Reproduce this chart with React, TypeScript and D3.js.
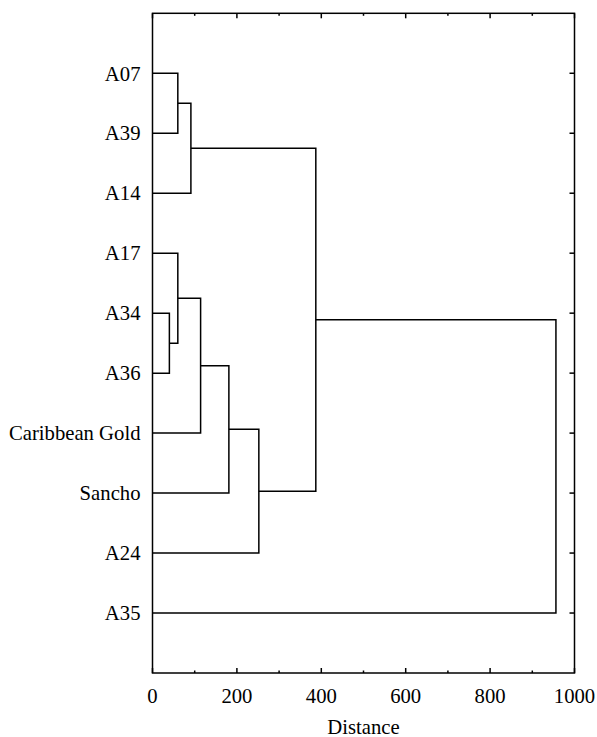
import React from "react";
import * as d3 from "d3";

// Leaf labels, top to bottom
const leaves = ["A07", "A39", "A14", "A17", "A34", "A36", "Caribbean Gold", "Sancho", "A24", "A35"];

// Agglomeration steps: children (leaf index or 10 + step index) and linkage distance
const mergeLeft = [0, 10, 4, 3, 13, 14, 15, 11, 17];
const mergeRight = [1, 2, 5, 12, 6, 7, 8, 16, 9];
const mergeDistance = [60, 91, 40, 60, 114, 181, 252, 387, 956];

// Distance axis ticks
const xTicks = [0, 100, 200, 300, 400, 500, 600, 700, 800, 900, 1000];
const xTickLabels = ["0", "200", "400", "600", "800", "1000"];
const xTitle = "Distance";

const W = 597;
const H = 737;
const plot = { left: 152.5, right: 574.5, top: 13.3, bottom: 673 };

export default function App() {
  const x = d3.scaleLinear().domain([0, 1000]).range([plot.left, plot.right]);
  const y = d3.scaleLinear().domain([0, leaves.length + 1]).range([plot.top, plot.bottom]);

  // node positions: leaves at their row, clusters at the midpoint of their children
  const nodeY: number[] = leaves.map((_, i) => i + 1);
  const nodeH: number[] = leaves.map(() => 0);
  mergeLeft.forEach((a, i) => {
    const b = mergeRight[i];
    nodeY.push((nodeY[a] + nodeY[b]) / 2);
    nodeH.push(mergeDistance[i]);
  });

  const segs: string[] = [];
  mergeLeft.forEach((a, i) => {
    const b = mergeRight[i];
    const hx = x(mergeDistance[i]);
    const path = d3.path();
    path.moveTo(x(nodeH[a]), y(nodeY[a]));
    path.lineTo(hx, y(nodeY[a]));
    path.lineTo(hx, y(nodeY[b]));
    path.lineTo(x(nodeH[b]), y(nodeY[b]));
    segs.push(path.toString());
  });

  const font = "'Liberation Serif', 'Times New Roman', serif";
  const stroke = "#000";
  const sw = 1.5;
  const fs = 20.7;

  return (
    <svg
      width={W}
      height={H}
      style={{ position: "absolute", left: 0, top: 0, background: "#fff" }}
      fontFamily={font}
    >
      <rect width={W} height={H} fill="#fff" />
      {/* dendrogram links */}
      {segs.map((d, i) => (
        <path key={i} d={d} fill="none" stroke={stroke} strokeWidth={sw} />
      ))}
      {/* frame */}
      <rect
        x={plot.left}
        y={plot.top}
        width={plot.right - plot.left}
        height={plot.bottom - plot.top}
        fill="none"
        stroke={stroke}
        strokeWidth={sw}
      />
      {/* bottom and top ticks */}
      {xTicks.map((t) => {
        const len = t % 200 === 0 ? 5 : 2.5;
        return (
          <g key={t}>
            <line x1={x(t)} x2={x(t)} y1={plot.bottom} y2={plot.bottom - len} stroke={stroke} strokeWidth={sw} />
            <line x1={x(t)} x2={x(t)} y1={plot.top} y2={plot.top + len} stroke={stroke} strokeWidth={sw} />
          </g>
        );
      })}
      {/* right ticks at leaf rows */}
      {leaves.map((_, i) => (
        <line
          key={i}
          x1={plot.right}
          x2={plot.right - 5}
          y1={y(i + 1)}
          y2={y(i + 1)}
          stroke={stroke}
          strokeWidth={sw}
        />
      ))}
      {/* x tick labels */}
      {xTickLabels.map((s) => (
        <text key={s} x={x(+s)} y={703} textAnchor="middle" fontSize={fs} fill="#000">
          {s}
        </text>
      ))}
      {/* leaf labels */}
      {leaves.map((s, i) => (
        <text key={s} x={140.5} y={y(i + 1)} dy="0.35em" textAnchor="end" fontSize={fs} fill="#000">
          {s}
        </text>
      ))}
      <text x={(plot.left + plot.right) / 2} y={734} textAnchor="middle" fontSize={fs} fill="#000">
        {xTitle}
      </text>
    </svg>
  );
}
